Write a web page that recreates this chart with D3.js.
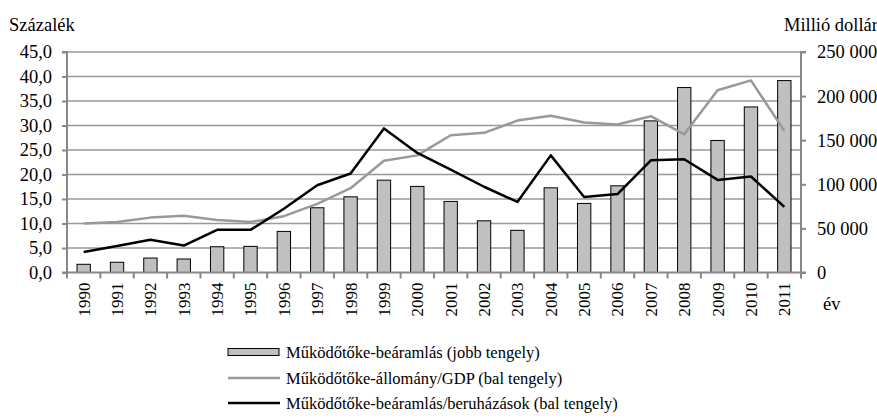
<!DOCTYPE html>
<html>
<head>
<meta charset="utf-8">
<script src="https://cdn.jsdelivr.net/npm/d3@7"></script>
<style>
  body { margin: 0; background: #fff; }
  svg text { font-family: "Liberation Serif", "Times New Roman", serif; fill: #000; }
</style>
</head>
<body>
<svg width="877" height="419"></svg>
<script>
var years = ['1990','1991','1992','1993','1994','1995','1996','1997','1998','1999','2000',
             '2001','2002','2003','2004','2005','2006','2007','2008','2009','2010','2011'];
// Működőtőke-beáramlás, millió dollár (jobb tengely)
var inflow = [9300, 11600, 16400, 15300, 29200, 29600, 46600, 73400, 85800, 104700, 97600,
              80600, 58600, 47800, 96000, 78300, 98300, 171900, 209700, 149700, 187700, 217600];
// Működőtőke-állomány/GDP, % (bal tengely)
var stockGdp = [10.0, 10.3, 11.2, 11.6, 10.7, 10.3, 11.5, 14.0, 17.2, 22.8, 23.9,
                28.0, 28.5, 31.0, 32.0, 30.6, 30.2, 31.9, 28.2, 37.2, 39.2, 28.9];
// Működőtőke-beáramlás/beruházások, % (bal tengely)
var inflowInv = [4.2, 5.4, 6.7, 5.5, 8.7, 8.7, 13.0, 17.8, 20.2, 29.4, 24.4,
                 21.0, 17.5, 14.4, 23.9, 15.4, 16.0, 22.9, 23.1, 18.9, 19.6, 13.4];
var leftTicks = [0, 5, 10, 15, 20, 25, 30, 35, 40, 45];
var rightTicks = [0, 50000, 100000, 150000, 200000, 250000];
var legendLabels = ['Működőtőke-beáramlás (jobb tengely)',
                    'Működőtőke-állomány/GDP (bal tengely)',
                    'Működőtőke-beáramlás/beruházások (bal tengely)'];

var svg = d3.select('svg');
var plotL = 67, plotR = 801, plotT = 52, plotB = 272.5;

var x = d3.scaleBand().domain(years).range([plotL, plotR]).paddingInner(0.6).paddingOuter(0.3);
var xBand = d3.scaleBand().domain(years).range([plotL, plotR]);
var yL = d3.scaleLinear().domain([0, 45]).range([plotB, plotT]);
var yR = d3.scaleLinear().domain([0, 250000]).range([plotB, plotT]);

var fmtL = function(d) { return d.toFixed(1).replace('.', ','); };
var fmtR = function(d) { return d === 0 ? '0' : d3.format(',')(d).replace(/,/g, ' '); };

// gridlines
svg.append('g').selectAll('line').data(leftTicks.slice(1)).enter().append('line')
  .attr('x1', plotL).attr('x2', plotR)
  .attr('y1', function(d) { return yL(d); }).attr('y2', function(d) { return yL(d); })
  .attr('stroke', '#999').attr('stroke-width', 1.3);

// bars
svg.append('g').selectAll('rect').data(years).enter().append('rect')
  .attr('x', function(d) { return x(d); })
  .attr('width', x.bandwidth())
  .attr('y', function(d, i) { return yR(inflow[i]); })
  .attr('height', function(d, i) { return plotB - yR(inflow[i]); })
  .attr('fill', '#c0c0c0').attr('stroke', '#000').attr('stroke-width', 1);

var line = function(vals) {
  return d3.line()
    .x(function(d, i) { return xBand(years[i]) + xBand.bandwidth() / 2; })
    .y(function(d) { return yL(d); })(vals);
};
svg.append('path').attr('d', line(stockGdp)).attr('fill', 'none')
  .attr('stroke', '#999').attr('stroke-width', 2.5).attr('stroke-linejoin', 'round');
svg.append('path').attr('d', line(inflowInv)).attr('fill', 'none')
  .attr('stroke', '#000').attr('stroke-width', 2.5).attr('stroke-linejoin', 'round');

// axes
var axL = svg.append('g').attr('transform', 'translate(' + plotL + ',0)')
  .call(d3.axisLeft(yL).tickValues(leftTicks).tickFormat(fmtL).tickSize(5).tickPadding(10));
var axR = svg.append('g').attr('transform', 'translate(' + plotR + ',0)')
  .call(d3.axisRight(yR).tickValues(rightTicks).tickFormat(fmtR).tickSize(5).tickPadding(11));
var axB = svg.append('g').attr('transform', 'translate(0,' + plotB + ')')
  .call(d3.axisBottom(xBand).tickSize(0).tickPadding(10));
[axL, axR, axB].forEach(function(a) {
  a.select('.domain').attr('stroke', '#888').attr('stroke-width', 2);
  a.selectAll('.tick line').attr('stroke', '#888').attr('stroke-width', 2);
  a.selectAll('text').attr('font-size', 18.5).attr('font-family', '"Liberation Serif", serif');
});
axL.select('.domain').attr('d', 'M-5,' + plotT + 'H0V' + plotB + 'H-5');
axR.select('.domain').attr('d', 'M5,' + plotT + 'H0V' + plotB + 'H5');
axB.select('.domain').attr('d', 'M' + plotL + ',0H' + plotR);
axB.selectAll('.tick text')
  .attr('font-size', 17)
  .attr('transform', 'rotate(-90)')
  .attr('text-anchor', 'end').attr('dy', '0.35em').attr('x', -10).attr('y', 0);
// category separators on the x axis
svg.append('g').selectAll('line').data(years.concat(['end'])).enter().append('line')
  .attr('x1', function(d, i) { return plotL + i * xBand.bandwidth(); })
  .attr('x2', function(d, i) { return plotL + i * xBand.bandwidth(); })
  .attr('y1', plotB).attr('y2', plotB + 6)
  .attr('stroke', '#888').attr('stroke-width', 2);

// axis titles
svg.append('text').attr('x', 9).attr('y', 31).attr('font-size', 18.5).text('Százalék');
svg.append('text').attr('x', 878).attr('y', 31).attr('text-anchor', 'end').attr('font-size', 18.5).text('Millió dollár');
svg.append('text').attr('x', 823).attr('y', 310).attr('font-size', 18.5).text('év');

// legend
var lg = svg.append('g').attr('transform', 'translate(228,0)');
var rowsY = [352, 378, 403];
lg.append('rect').attr('x', 0).attr('y', rowsY[0] - 3.5).attr('width', 51).attr('height', 7)
  .attr('fill', '#c0c0c0').attr('stroke', '#000').attr('stroke-width', 1);
lg.append('line').attr('x1', 0).attr('x2', 52).attr('y1', rowsY[1]).attr('y2', rowsY[1])
  .attr('stroke', '#999').attr('stroke-width', 2.5);
lg.append('line').attr('x1', 0).attr('x2', 52).attr('y1', rowsY[2]).attr('y2', rowsY[2])
  .attr('stroke', '#000').attr('stroke-width', 2.5);
lg.selectAll('text.lab').data(legendLabels).enter().append('text')
  .attr('class', 'lab')
  .attr('x', 58).attr('y', function(d, i) { return rowsY[i]; })
  .attr('dy', '0.35em').attr('font-size', 16.5)
  .text(function(d) { return d; });
</script>
</body>
</html>
